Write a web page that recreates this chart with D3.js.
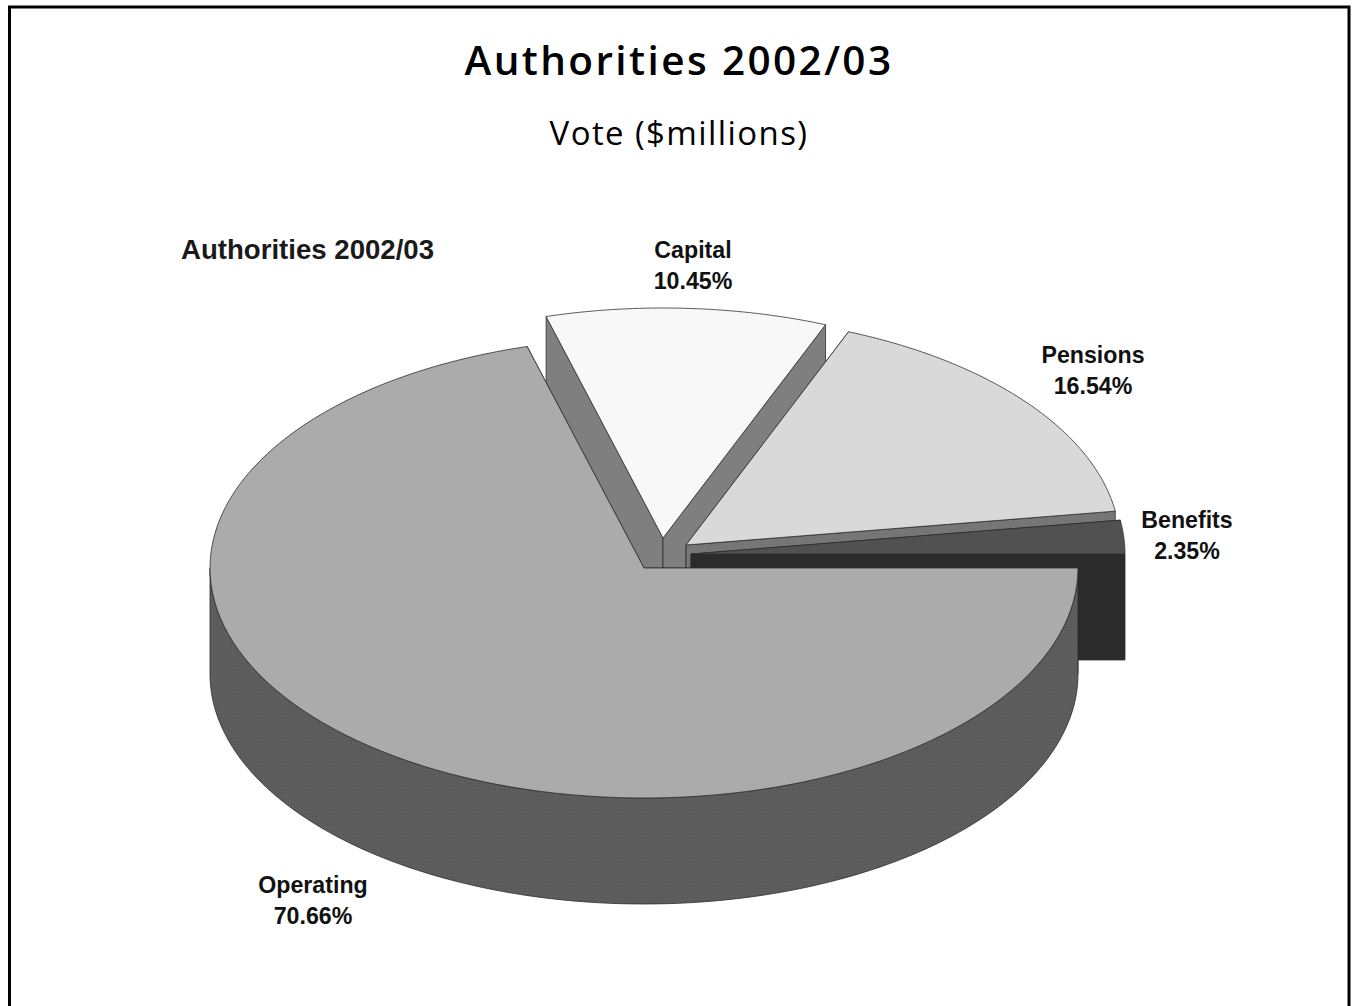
<!DOCTYPE html>
<html>
<head>
<meta charset="utf-8">
<title>Authorities 2002/03</title>
<script src="https://cdn.jsdelivr.net/npm/d3@7"></script>
<style>
  html, body { margin: 0; padding: 0; background: #fff; }
  svg { display: block; }
</style>
</head>
<body>
<script>
// Share of the vote per authority, clockwise from three o'clock
const categories = ["Operating", "Capital", "Pensions", "Benefits"];
const shares = [70.66, 10.45, 16.54, 2.35];
const topColors = ["#ababab", "#f8f8f8", "#d9d9d9", "#515151"];
const faceColors = ["url(#wallTexture)", "#7f7f7f", "#767676", "#2b2b2b"];

const width = 1353, height = 1006;

// Tilted pie geometry
const radiusX = 434, radiusY = 230, depth = 106;
const pieCentre = { x: 644, y: 568 };
// How far each wedge is pulled out of the pie
const pullOut = { Operating: [0, 0], Capital: [19, -30], Pensions: [42, -23], Benefits: [47, -14] };
// Painting order, back wedges first
const drawOrder = ["Capital", "Pensions", "Benefits", "Operating"];

const svg = d3.select("body").append("svg")
  .attr("width", width).attr("height", height);

// Fine halftone weave on the outer wall
const weave = svg.append("defs").append("pattern")
  .attr("id", "wallTexture").attr("patternUnits", "userSpaceOnUse")
  .attr("width", 3).attr("height", 3);
weave.append("rect").attr("width", 3).attr("height", 3).attr("fill", "#5f5f5f");
weave.append("rect").attr("width", 1).attr("height", 3).attr("fill", "#5a5a5a");
weave.append("rect").attr("width", 3).attr("height", 1).attr("fill", "#5a5a5a");

const topColor = d3.scaleOrdinal(categories, topColors);
const faceColor = d3.scaleOrdinal(categories, faceColors);

const wedges = d3.pie().sort(null).value((d, i) => shares[i])
  .startAngle(0).endAngle(2 * Math.PI)(categories);

const line = d3.line();
const outline = "#2e2e2e";

// Point on the rim of a wedge for a sweep angle measured from three o'clock
const rim = (c, a, drop = 0) =>
  [c.x + radiusX * Math.cos(a), c.y + radiusY * Math.sin(a) + drop];

const rimPoints = (c, a0, a1, drop = 0) =>
  d3.range(0, 121).map(i => rim(c, a0 + (a1 - a0) * i / 120, drop));

const g = svg.append("g");

drawOrder.forEach(name => {
  const w = wedges.find(d => d.data === name);
  const [dx, dy] = pullOut[name];
  const c = { x: pieCentre.x + dx, y: pieCentre.y + dy };
  const a0 = w.startAngle, a1 = w.endAngle;
  const apex = [c.x, c.y];
  const apexLow = [c.x, c.y + depth];
  const wedge = g.append("g").attr("class", "wedge").attr("data-name", name);

  // Cut faces along the two radial edges
  [a0, a1].forEach(a => {
    wedge.append("path")
      .attr("d", line([apex, rim(c, a), rim(c, a, depth), apexLow]) + "Z")
      .attr("fill", faceColor(name))
      .attr("stroke", outline).attr("stroke-width", 0.8).attr("stroke-linejoin", "round");
  });

  // Outer wall: only the part of the rim facing the viewer
  const wallFrom = Math.max(a0, 0), wallTo = Math.min(a1, Math.PI);
  if (wallTo > wallFrom) {
    const front = rimPoints(c, wallFrom, wallTo);
    const back = rimPoints(c, wallTo, wallFrom, depth);
    wedge.append("path")
      .attr("d", line(front.concat(back)) + "Z")
      .attr("fill", faceColor(name))
      .attr("stroke", outline).attr("stroke-width", 0.8);
  }

  // Top surface
  wedge.append("path")
    .attr("d", line([apex, ...rimPoints(c, a0, a1)]) + "Z")
    .attr("fill", topColor(name))
    .attr("stroke", outline).attr("stroke-width", 0.8).attr("stroke-linejoin", "round");
});

// Frame, open along the bottom of the page
svg.append("path")
  .attr("d", line([[9.5, height], [9.5, 7], [1349, 7], [1349, height]]))
  .attr("fill", "none").attr("stroke", "#000").attr("stroke-width", 3);

// Headings
svg.append("text")
  .attr("x", 679).attr("y", 75).attr("text-anchor", "middle")
  .attr("font-family", "Open Sans").attr("font-weight", 600).attr("font-size", 40.5)
  .attr("letter-spacing", 2.4)
  .attr("fill", "#000").text("Authorities 2002/03");

svg.append("text")
  .attr("x", 679).attr("y", 145).attr("text-anchor", "middle")
  .attr("font-family", "Open Sans").attr("font-weight", 400).attr("font-size", 33)
  .attr("letter-spacing", 1.4)
  .attr("fill", "#000").text("Vote ($millions)");

svg.append("text")
  .attr("x", 181).attr("y", 259)
  .attr("font-family", "Liberation Sans").attr("font-weight", 700).attr("font-size", 27.6)
  .attr("fill", "#1a1a1a").text("Authorities 2002/03");

// Slice labels: name over percentage
const labelSpots = {
  Capital: [693, 258],
  Pensions: [1093, 363],
  Benefits: [1187, 528],
  Operating: [313, 893]
};
const labels = svg.append("g")
  .attr("font-family", "Liberation Sans").attr("font-weight", 700).attr("font-size", 23.2)
  .attr("fill", "#111").attr("text-anchor", "middle");

categories.forEach((name, i) => {
  const [x, y] = labelSpots[name];
  labels.append("text").attr("x", x).attr("y", y).text(name);
  labels.append("text").attr("x", x).attr("y", y + 30.5).text(d3.format(".2f")(shares[i]) + "%");
});
</script>
</body>
</html>
